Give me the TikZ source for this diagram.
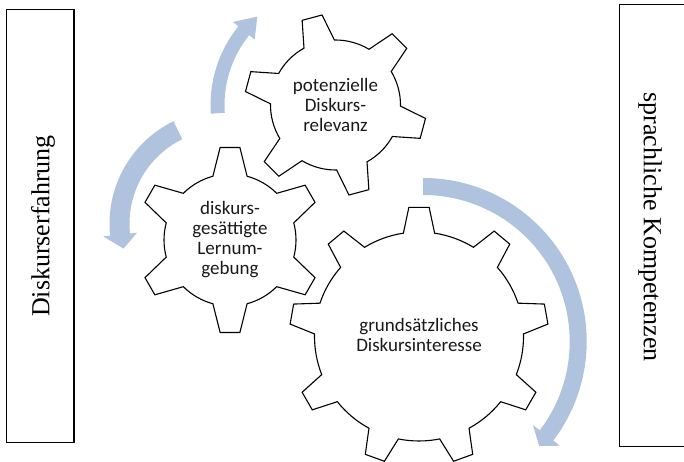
\documentclass[tikz,border=0pt]{standalone}
\usepackage{fontspec}
\setmainfont{Liberation Serif}
\newfontfamily\gearfont{Carlito}
\definecolor{arrowblue}{RGB}{176,195,222}
\newcommand\gearpath[8]{%
  \begin{scope}[shift={(#1,#2)}]
    \pgfmathsetmacro\gstep{360/#3}
    \draw[gearline] ({#4-#8}:#6) \foreach \k in {1,...,#3}{
      -- ({#4+(\k-1)*\gstep-#7}:#5) -- ({#4+(\k-1)*\gstep+#7}:#5)
      -- ({#4+(\k-1)*\gstep+#8}:#6)
      arc[start angle={#4+(\k-1)*\gstep+#8}, end angle={#4+\k*\gstep-#8}, radius=#6]
    } -- cycle;
  \end{scope}}
\begin{document}
\begin{tikzpicture}[x=1pt,y=1pt,
  gearline/.style={draw=black, line width=1.1pt, fill=white, line join=miter},
  boxline/.style={draw=black, line width=1.5pt, inner sep=0pt},
  geartext/.style={font=\gearfont\fontsize{19}{20}\selectfont, align=center, text=black!90},
  boxtext/.style={font=\fontsize{26}{30}\selectfont, inner sep=0pt}]
\useasboundingbox (0,0) rectangle (684,462);
% circular arrows
\begin{scope}[shift={(335.5,357)}]
  \fill[arrowblue] (184:125) arc[start angle=184, end angle=141, radius=125]
    -- (141:132) -- (131.5:118) -- (141:104) -- (141:111)
    arc[start angle=141, end angle=184, radius=111] -- cycle;
\end{scope}
\begin{scope}[shift={(223.5,238.3)}]
  \fill[arrowblue] (116:114) arc[start angle=116, end angle=186, radius=114]
    -- (186:121) -- (194:103) -- (186:87) -- (186:94)
    arc[start angle=186, end angle=116, radius=94] -- cycle;
\end{scope}
\begin{scope}[shift={(423.2,120.5)}]
  \fill[arrowblue] (90:163.5) arc[start angle=90, end angle=-37.3, radius=163.5]
    -- (-37.3:172) -- (-42:156) -- (-37.3:138) -- (-37.3:146.5)
    arc[start angle=-37.3, end angle=90, radius=146.5] -- cycle;
\end{scope}
% gears
\gearpath{335.5}{357}{6}{105}{91}{65}{6.5}{14}
\gearpath{230}{222}{6}{90}{93}{66}{6.1}{15}
\gearpath{419}{125.5}{9}{90}{129.5}{104.5}{4.5}{8.6}
\node[geartext] (g1) at (335.5,357) {potenzielle\\Diskurs-\\relevanz};
\node[geartext] (g2) at (230,222) {diskurs-\\gesättigte\\Lernum-\\gebung};
\node[geartext] (g3) at (419,127.5) {grundsätzliches\\Diskursinteresse};
% side boxes
\node[boxline, minimum width=67.3pt, minimum height=433.4pt] (lb) at (40.3,236) {};
\node[boxtext, rotate=90] (lt) at (43,236) {Diskurserfahrung};
\node[boxline, minimum width=81pt, minimum height=442pt] (rb) at (659.8,236.3) {};
\node[boxtext, rotate=-90] (rt) at (650,235) {sprachliche Kompetenzen};
\end{tikzpicture}
\end{document}
